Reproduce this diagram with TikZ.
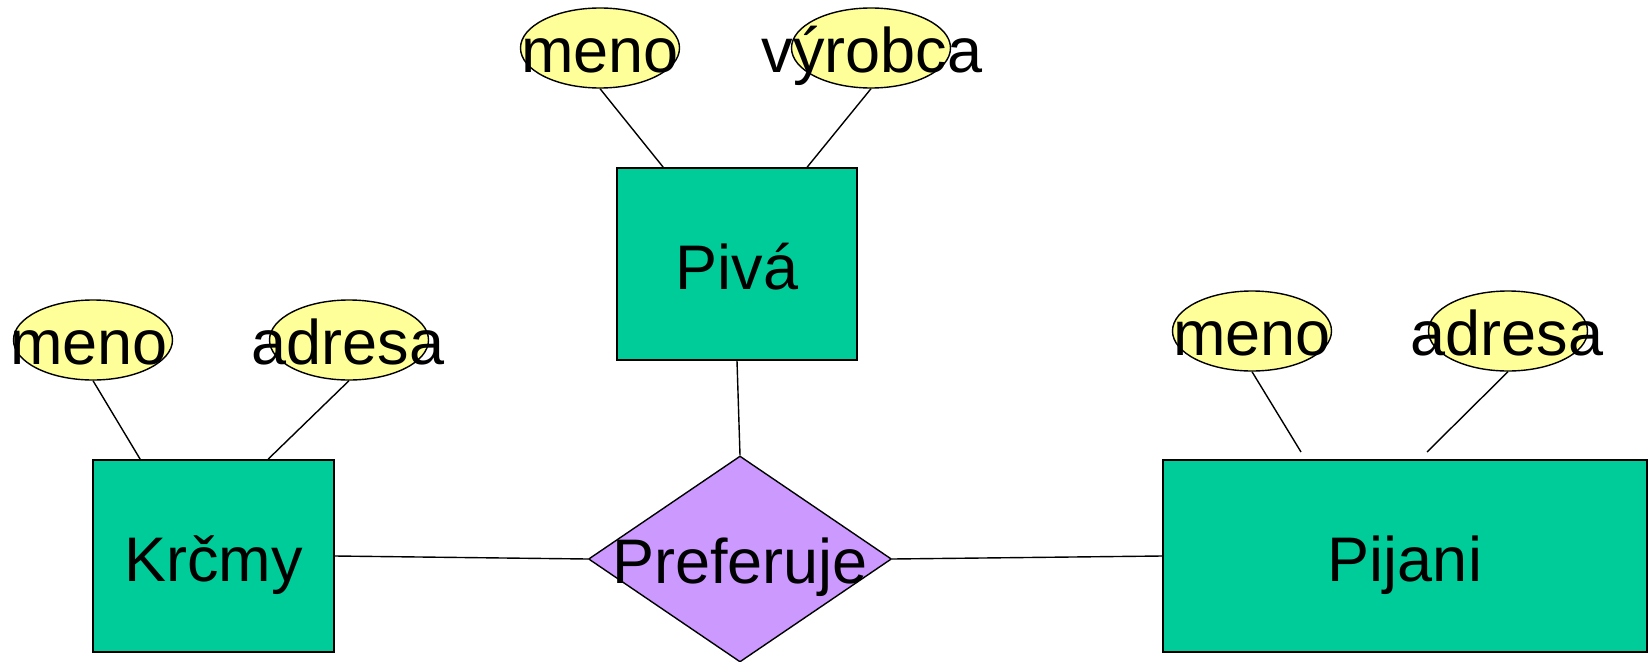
\documentclass[tikz,border=0pt]{standalone}
\usepackage{fontspec}
\setmainfont{Liberation Sans}
\usetikzlibrary{shapes.geometric,calc}
\definecolor{entgreen}{HTML}{00CC99}
\definecolor{attyellow}{HTML}{FFFF99}
\definecolor{relpurple}{HTML}{CC99FF}
\begin{document}
\begin{tikzpicture}[x=1pt,y=-1pt,
  every node/.style={font=\fontsize{63}{75}\selectfont},
  entity/.style={draw=black,line width=1.7pt,fill=entgreen,inner sep=0pt,text height=50pt,text depth=0pt},
  attr/.style={ellipse,draw=black,line width=1.4pt,fill=attyellow,minimum width=159pt,minimum height=80pt,inner sep=0pt},
  attrtext/.style={anchor=base,inner sep=0pt},
  rel/.style={diamond,draw=black,line width=1.4pt,fill=relpurple,minimum width=303pt,minimum height=206pt,inner sep=0pt},
  conn/.style={draw=black,line width=1.4pt}]
\useasboundingbox (0,0) rectangle (1648,661);

% entities
\node[entity,minimum width=240pt,minimum height=192pt] (piva) at (737,264) {Piv\'a};
\node[entity,minimum width=241pt,minimum height=192pt] (krc) at (213.5,556) {Kr\v{c}my};
\node[entity,minimum width=484pt,minimum height=192pt] (pij) at (1405,556) {Pijani};

% relationship
\node[rel] (pref) at (740,559) {};
\node[attrtext] (preft) at (740,583) {Preferuje};

% attributes
\node[attr] (pm) at (600,48) {};
\node[attrtext] (pmt) at (600,72) {meno};
\node[attr] (pv) at (871,48) {};
\node[attrtext] (pvt) at (872,72) {v\'yrobca};

\node[attr] (km) at (93,340) {};
\node[attrtext] (kmt) at (89,364) {meno};
\node[attr] (ka) at (349,340) {};
\node[attrtext] (kat) at (348,364) {adresa};

\node[attr] (jm) at (1252,331) {};
\node[attrtext] (jmt) at (1252,355) {meno};
\node[attr] (ja) at (1508,331) {};
\node[attrtext] (jat) at (1507,355) {adresa};

\coordinate (jmend) at (1301,452);
\coordinate (jaend) at (1427,452);

% connectors
\draw[conn] (pm.south) -- ($(piva.north west)+(47,0)$);
\draw[conn] (pv.south) -- ($(piva.north west)+(191,0)$);
\draw[conn] (km.south) -- ($(krc.north west)+(48,0)$);
\draw[conn] (ka.south) -- ($(krc.north west)+(176,0)$);
\draw[conn] (jm.south) -- (jmend);
\draw[conn] (ja.south) -- (jaend);
\draw[conn] (piva.south) -- (pref.north);
\draw[conn] (krc.east) -- (pref.west);
\draw[conn] (pref.east) -- (pij.west);
\end{tikzpicture}
\end{document}
